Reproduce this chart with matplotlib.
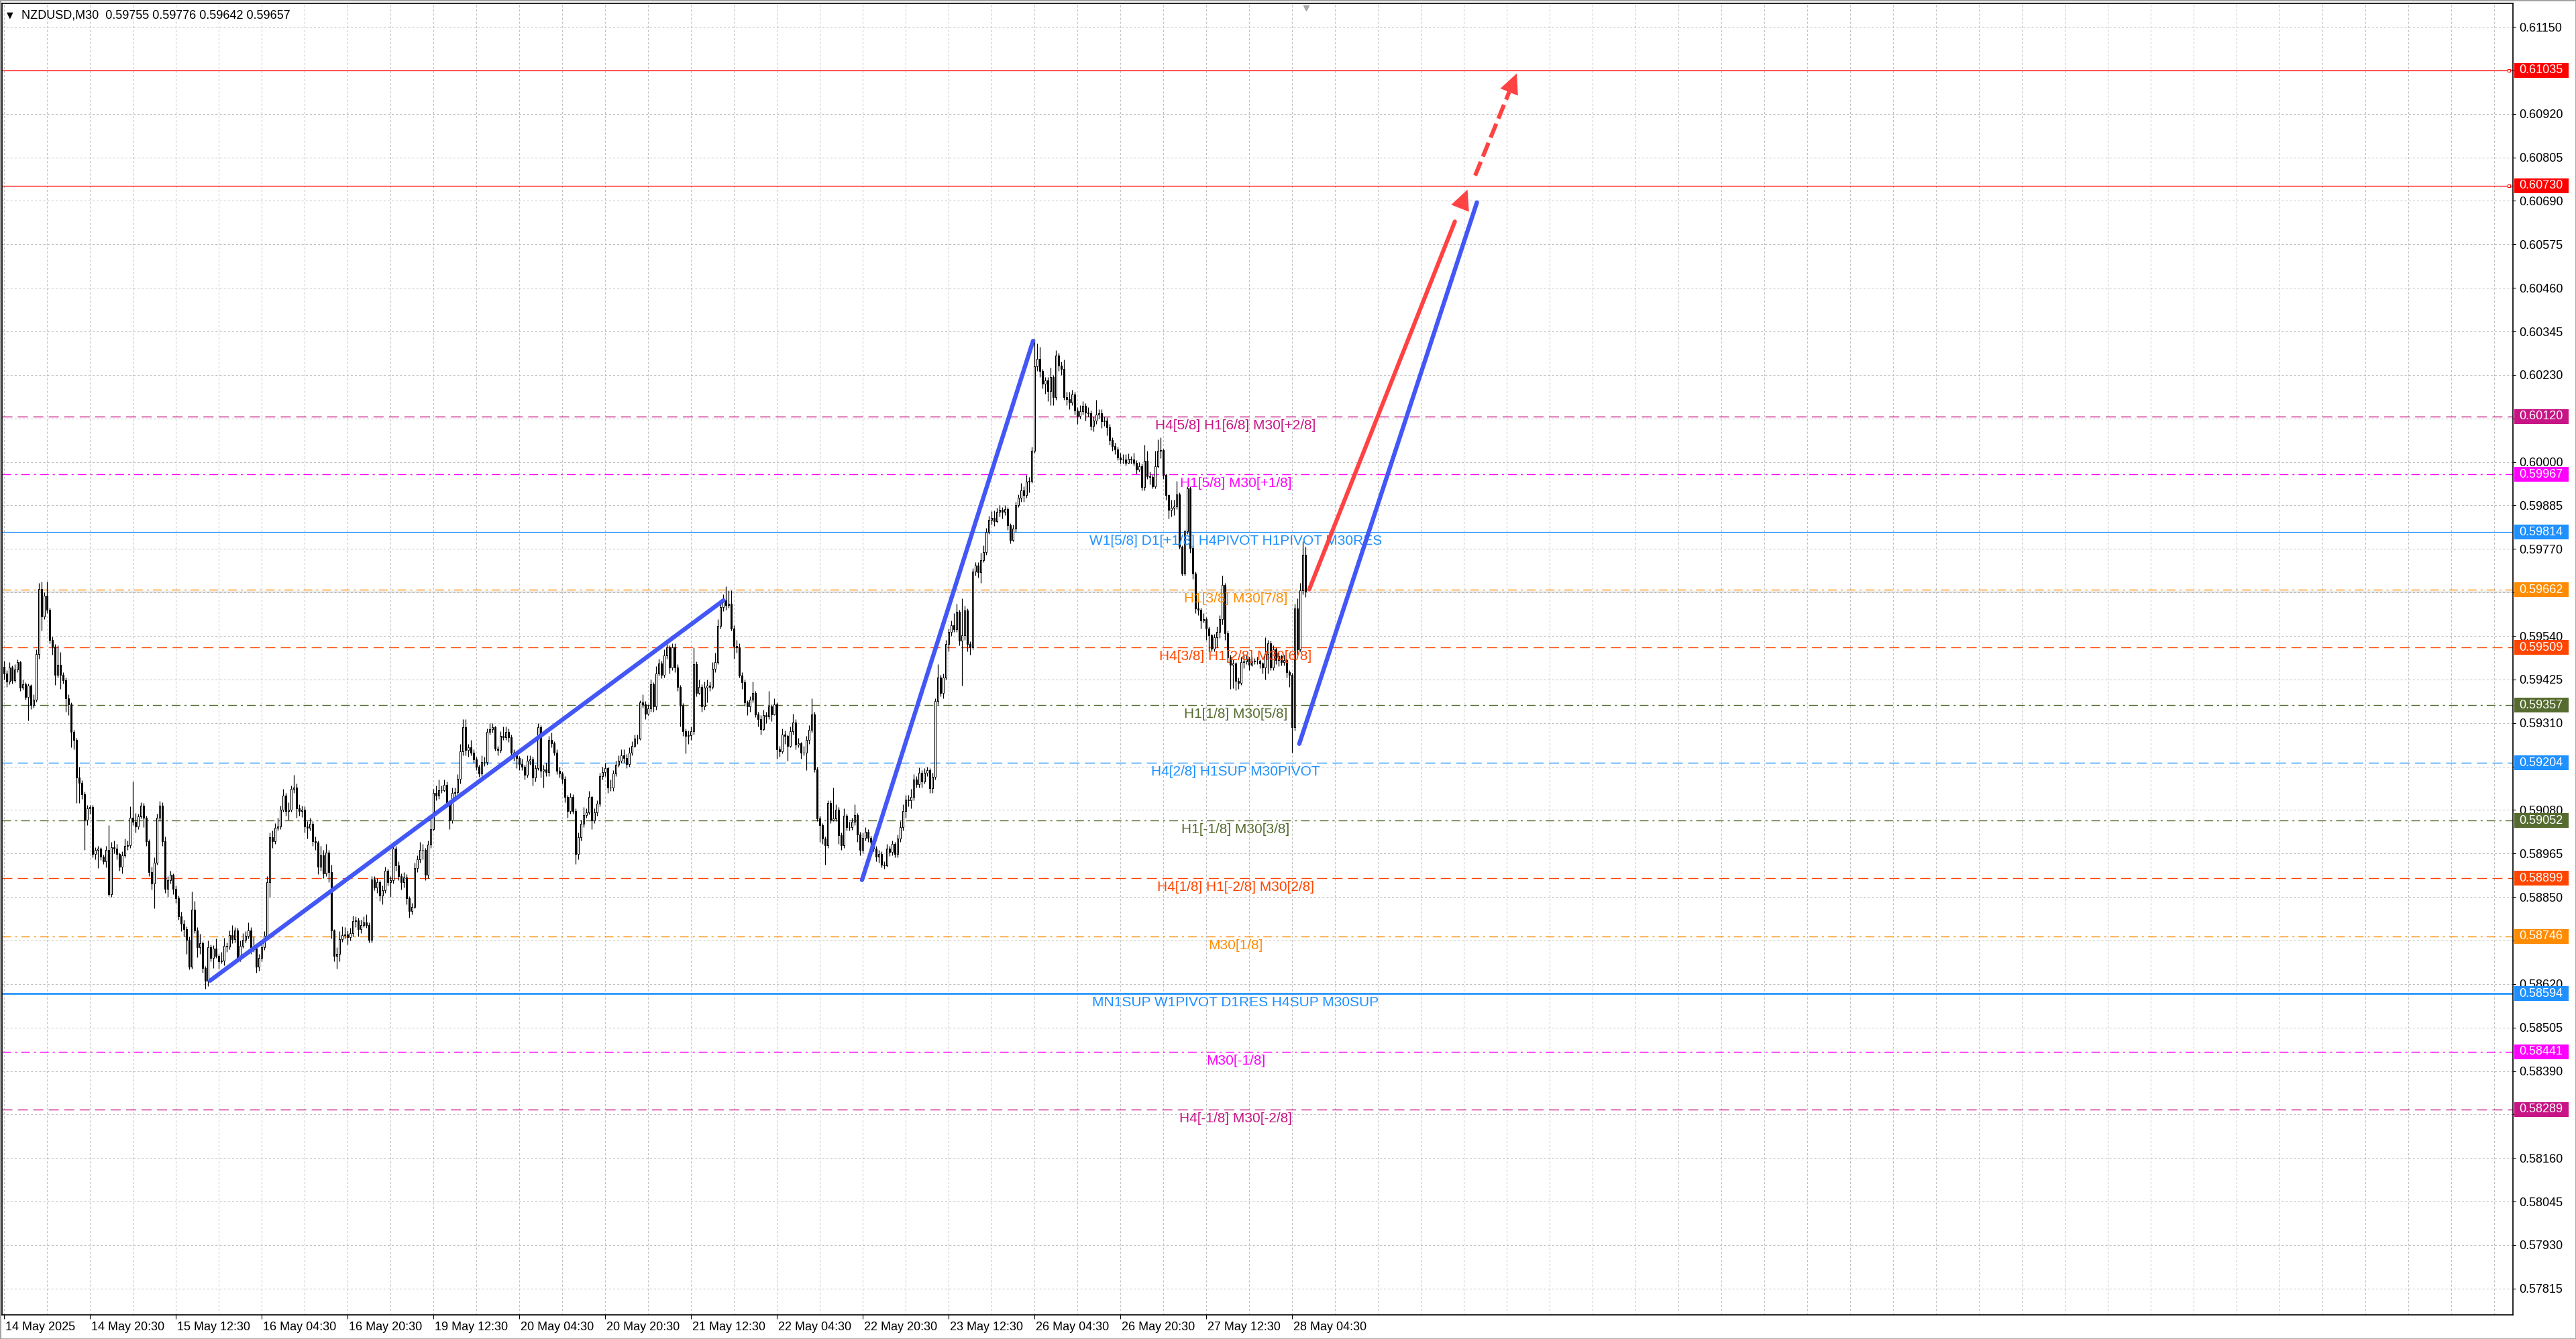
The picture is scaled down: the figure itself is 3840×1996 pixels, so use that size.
import numpy as np
import matplotlib
matplotlib.use("Agg")
import matplotlib.pyplot as plt
from matplotlib.transforms import blended_transform_factory, ScaledTranslation
from matplotlib.patches import Rectangle

plt.rcParams['font.family'] = ['Liberation Sans', 'DejaVu Sans']
plt.rcParams['lines.scale_dashes'] = False

# ---------------- data (prices in points, 1 point = 0.00001) ----------------
symbol = "NZDUSD,M30"
last_ohlc = ["0.59755", "0.59776", "0.59642", "0.59657"]

first_open = 59459   # later bars open at the previous close
closes = [
    59441, 59419, 59456, 59423, 59452, 59471, 59404, 59412, 59379, 59408,
    59357, 59371, 59493, 59665, 59592, 59647, 59610, 59529, 59511, 59437,
    59463, 59437, 59423, 59375, 59360, 59287, 59265, 59166, 59151, 59121,
    59055, 59085, 59088, 58963, 58974, 58978, 58956, 58945, 58974, 58857,
    58982, 58978, 58963, 58930, 58960, 58985, 58986, 59059, 59048, 59037,
    59063, 59092, 59059, 58997, 58916, 58886, 58941, 59059, 59092, 58997,
    58872, 58894, 58908, 58872, 58846, 58798, 58780, 58765, 58736, 58666,
    58816, 58761, 58717, 58728, 58662, 58629, 58717, 58688, 58714, 58695,
    58680, 58681, 58721, 58719, 58750, 58739, 58761, 58688, 58721, 58736,
    58747, 58761, 58717, 58714, 58666, 58688, 58717, 58747, 58890, 59008,
    58997, 59033, 59037, 59081, 59118, 59077, 59081, 59136, 59140, 59085,
    59077, 59081, 59037, 59033, 59044, 58997, 58993, 58930, 58960, 58912,
    58967, 58916, 58761, 58695, 58699, 58739, 58750, 58751, 58743, 58754,
    58787, 58788, 58765, 58776, 58783, 58776, 58736, 58897, 58875, 58890,
    58853, 58868, 58919, 58890, 58894, 58978, 58934, 58905, 58890, 58901,
    58846, 58813, 58824, 58927, 58949, 58974, 58975, 58908, 58989, 59030,
    59125, 59118, 59132, 59133, 59147, 59099, 59052, 59125, 59126, 59162,
    59235, 59298, 59239, 59246, 59232, 59213, 59195, 59177, 59206, 59207,
    59287, 59294, 59298, 59243, 59239, 59276, 59272, 59287, 59272, 59232,
    59224, 59217, 59202, 59195, 59173, 59210, 59213, 59166, 59191, 59298,
    59184, 59188, 59180, 59265, 59257, 59232, 59184, 59177, 59162, 59114,
    59077, 59114, 59077, 58963, 59008, 59044, 59066, 59074, 59114, 59052,
    59074, 59096, 59169, 59180, 59191, 59140, 59139, 59177, 59199, 59210,
    59224, 59217, 59202, 59232, 59250, 59268, 59269, 59364, 59360, 59335,
    59349, 59412, 59353, 59441, 59467, 59437, 59489, 59510, 59457, 59510,
    59457, 59406, 59356, 59288, 59276, 59277, 59288, 59466, 59389, 59406,
    59353, 59403, 59409, 59406, 59454, 59471, 59566, 59616, 59634, 59622,
    59625, 59560, 59513, 59510, 59436, 59418, 59365, 59354, 59371, 59389,
    59333, 59321, 59294, 59330, 59327, 59353, 59333, 59359, 59241, 59235,
    59279, 59276, 59250, 59288, 59312, 59253, 59256, 59232, 59232, 59265,
    59291, 59333, 59188, 59058, 59040, 59004, 58987, 59099, 59055, 59058,
    59081, 59013, 58987, 59064, 59034, 59035, 59049, 59067, 59016, 58975,
    59007, 59022, 59007, 58996, 58978, 58957, 58963, 58936, 58933, 58978,
    58969, 58990, 58963, 59004, 59034, 59078, 59108, 59105, 59114, 59161,
    59149, 59179, 59155, 59179, 59185, 59137, 59167, 59368, 59430, 59389,
    59430, 59519, 59551, 59569, 59557, 59604, 59528, 59542, 59607, 59519,
    59510, 59711, 59726, 59708, 59740, 59761, 59814, 59847, 59853, 59844,
    59868, 59873, 59868, 59876, 59832, 59794, 59823, 59885, 59906, 59924,
    59912, 59947, 59950, 60030, 60252, 60272, 60240, 60207, 60216, 60187,
    60225, 60172, 60281, 60255, 60246, 60172, 60166, 60157, 60178, 60136,
    60122, 60134, 60148, 60131, 60128, 60095, 60110, 60125, 60128, 60107,
    60110, 60092, 60057, 60042, 60033, 60012, 60006, 60007, 59998, 60009,
    60006, 59998, 59980, 59989, 59933, 60003, 59962, 59961, 59936, 59989,
    60030, 60031, 59965, 59912, 59873, 59879, 59882, 59915, 59776, 59705,
    59817, 59930, 59773, 59705, 59613, 59610, 59581, 59584, 59560, 59542,
    59507, 59537, 59551, 59584, 59675, 59548, 59483, 59464, 59467, 59422,
    59416, 59470, 59473, 59479, 59464, 59473, 59474, 59475, 59467, 59457,
    59492, 59521, 59457, 59505, 59476, 59486, 59470, 59476, 59445, 59438,
    59299, 59613, 59505, 59660, 59755, 59657,
]
highs = [
    59475, 59450, 59470, 59462, 59465, 59478, 59474, 59425, 59418, 59415,
    59412, 59385, 59505, 59680, 59684, 59655, 59684, 59615, 59538, 59518,
    59515, 59498, 59445, 59430, 59385, 59365, 59292, 59270, 59195, 59158,
    59128, 59094, 59093, 59094, 58981, 58985, 58982, 58962, 58985, 59040,
    58996, 59000, 58990, 58968, 58970, 59005, 59000, 59090, 59155, 59072,
    59071, 59101, 59098, 59065, 59002, 58930, 58955, 59070, 59103, 59100,
    59010, 58905, 58920, 58913, 58880, 58853, 58812, 58790, 58772, 58745,
    58864, 58840, 58770, 58752, 58733, 58668, 58735, 58725, 58722, 58740,
    58700, 58705, 58742, 58730, 58762, 58775, 58770, 58768, 58735, 58755,
    58760, 58782, 58770, 58745, 58720, 58700, 58730, 58760, 58905, 59020,
    59025, 59045, 59060, 59092, 59135, 59125, 59100, 59145, 59173, 59150,
    59095, 59092, 59090, 59050, 59060, 59050, 59010, 59000, 58985, 58975,
    58990, 58975, 58935, 58765, 58718, 58760, 58773, 58770, 58762, 58768,
    58800, 58798, 58795, 58790, 58798, 58805, 58783, 58905, 58905, 58900,
    58895, 58880, 58930, 58925, 58905, 58995, 58985, 58945, 58912, 58915,
    58910, 58852, 58835, 58940, 58960, 58995, 58990, 58980, 59000, 59060,
    59135, 59145, 59160, 59145, 59160, 59155, 59105, 59140, 59140, 59175,
    59255, 59320, 59320, 59255, 59265, 59240, 59220, 59200, 59225, 59220,
    59295, 59310, 59310, 59302, 59250, 59288, 59300, 59300, 59295, 59280,
    59240, 59235, 59222, 59215, 59200, 59225, 59225, 59220, 59200, 59310,
    59305, 59200, 59205, 59275, 59285, 59262, 59240, 59195, 59182, 59170,
    59120, 59125, 59122, 59085, 59020, 59055, 59088, 59085, 59130, 59118,
    59085, 59105, 59178, 59195, 59205, 59195, 59160, 59185, 59210, 59225,
    59240, 59240, 59228, 59245, 59262, 59280, 59280, 59370, 59385, 59368,
    59360, 59425, 59418, 59460, 59480, 59475, 59505, 59525, 59515, 59520,
    59520, 59465, 59410, 59362, 59295, 59290, 59300, 59510, 59472, 59425,
    59412, 59420, 59425, 59420, 59470, 59495, 59585, 59625, 59650, 59672,
    59660, 59660, 59568, 59530, 59520, 59445, 59425, 59370, 59380, 59420,
    59395, 59340, 59330, 59345, 59340, 59395, 59360, 59375, 59365, 59250,
    59295, 59290, 59280, 59300, 59335, 59320, 59270, 59260, 59250, 59275,
    59305, 59375, 59340, 59195, 59065, 59045, 59010, 59105, 59105, 59140,
    59095, 59088, 59020, 59085, 59070, 59048, 59060, 59095, 59072, 59022,
    59020, 59035, 59030, 59012, 59000, 58985, 58975, 58970, 58945, 58990,
    58985, 59000, 58995, 59015, 59050, 59095, 59120, 59120, 59135, 59175,
    59170, 59193, 59185, 59190, 59195, 59190, 59178, 59375, 59465, 59437,
    59440, 59530, 59560, 59580, 59600, 59625, 59610, 59640, 59620, 59612,
    59525, 59720, 59735, 59735, 59760, 59780, 59825, 59858, 59870, 59872,
    59878, 59885, 59880, 59885, 59880, 59838, 59835, 59895, 59915, 59945,
    59935, 59965, 59960, 60040, 60323, 60314, 60305, 60245, 60225, 60225,
    60250, 60230, 60295, 60288, 60265, 60270, 60185, 60185, 60190, 60185,
    60145, 60150, 60160, 60155, 60145, 60135, 60120, 60165, 60140, 60140,
    60120, 60118, 60100, 60065, 60050, 60040, 60025, 60020, 60020, 60022,
    60015, 60025, 60005, 60000, 59995, 60045, 60030, 59975, 59965, 60030,
    60060, 60065, 60035, 59970, 59915, 59900, 59900, 59950, 59920, 59780,
    59820, 59935, 59935, 59780, 59710, 59640, 59615, 59600, 59590, 59565,
    59545, 59545, 59565, 59595, 59700, 59680, 59555, 59490, 59478, 59470,
    59430, 59485, 59490, 59490, 59485, 59485, 59482, 59485, 59478, 59470,
    59537, 59530, 59528, 59515, 59510, 59495, 59490, 59490, 59480, 59450,
    59442, 59625, 59640, 59680, 59790, 59776,
]
lows = [
    59425, 59405, 59412, 59415, 59418, 59445, 59395, 59398, 59372, 59316,
    59346, 59350, 59366, 59480, 59555, 59585, 59600, 59520, 59490, 59410,
    59430, 59400, 59415, 59340, 59330, 59245, 59240, 59099, 59099, 59110,
    58974, 59040, 59070, 58955, 58950, 58926, 58948, 58938, 58928, 58852,
    58850, 58966, 58950, 58920, 58912, 58955, 58975, 58980, 59040, 59020,
    59030, 59058, 59035, 58985, 58905, 58870, 58820, 58935, 59050, 58985,
    58860, 58850, 58885, 58858, 58835, 58790, 58760, 58745, 58700, 58658,
    58660, 58755, 58690, 58700, 58650, 58607, 58615, 58680, 58662, 58688,
    58660, 58675, 58670, 58705, 58712, 58728, 58730, 58680, 58680, 58715,
    58730, 58740, 58700, 58705, 58650, 58655, 58680, 58710, 58740, 58850,
    58980, 58990, 59025, 59030, 59075, 59065, 59055, 59075, 59125, 59060,
    59065, 59062, 59020, 59005, 59025, 58985, 58975, 58910, 58920, 58900,
    58905, 58890, 58740, 58680, 58660, 58680, 58732, 58740, 58725, 58735,
    58745, 58770, 58745, 58755, 58770, 58768, 58730, 58730, 58868, 58860,
    58840, 58830, 58860, 58880, 58850, 58885, 58920, 58895, 58870, 58875,
    58830, 58795, 58805, 58820, 58915, 58940, 58950, 58895, 58900, 58980,
    59025, 59105, 59110, 59125, 59128, 59090, 59030, 59045, 59110, 59120,
    59150, 59225, 59225, 59220, 59225, 59205, 59185, 59168, 59170, 59196,
    59200, 59280, 59285, 59236, 59225, 59232, 59265, 59265, 59260, 59220,
    59210, 59190, 59185, 59185, 59160, 59165, 59200, 59145, 59155, 59185,
    59165, 59140, 59170, 59170, 59245, 59225, 59175, 59165, 59150, 59100,
    59060, 59070, 59070, 58938, 58950, 59000, 59035, 59060, 59068, 59030,
    59045, 59065, 59090, 59160, 59170, 59125, 59130, 59130, 59170, 59195,
    59205, 59205, 59190, 59195, 59225, 59245, 59255, 59265, 59350, 59320,
    59330, 59340, 59340, 59345, 59435, 59428, 59430, 59480, 59440, 59450,
    59445, 59395, 59300, 59275, 59230, 59255, 59265, 59280, 59380, 59385,
    59340, 59345, 59365, 59395, 59400, 59445, 59465, 59560, 59605, 59610,
    59615, 59555, 59480, 59495, 59430, 59400, 59355, 59330, 59340, 59365,
    59325, 59300, 59280, 59290, 59310, 59320, 59315, 59330, 59215, 59220,
    59230, 59255, 59210, 59245, 59280, 59240, 59245, 59215, 59225, 59185,
    59255, 59285, 59180, 59050, 58995, 58990, 58936, 58980, 59045, 59050,
    59050, 58990, 58975, 58980, 59025, 59025, 59028, 59040, 58995, 58960,
    58965, 59000, 58995, 58980, 58970, 58945, 58940, 58928, 58925, 58930,
    58958, 58960, 58955, 58955, 58995, 59025, 59060, 59090, 59085, 59105,
    59140, 59140, 59140, 59150, 59170, 59125, 59125, 59160, 59360, 59380,
    59375, 59425, 59500, 59540, 59550, 59550, 59515, 59409, 59530, 59500,
    59490, 59505, 59700, 59695, 59680, 59735, 59755, 59810, 59835, 59830,
    59840, 59855, 59850, 59860, 59820, 59785, 59790, 59815, 59880, 59895,
    59895, 59905, 59920, 59945, 60025, 60240, 60225, 60195, 60180, 60160,
    60150, 60150, 60165, 60240, 60230, 60165, 60150, 60140, 60150, 60125,
    60100, 60115, 60125, 60110, 60120, 60085, 60080, 60100, 60115, 60090,
    60095, 60070, 60045, 60030, 60020, 60005, 59995, 59995, 59990, 59995,
    59995, 59990, 59970, 59975, 59925, 59925, 59955, 59940, 59930, 59930,
    59985, 60010, 59955, 59900, 59850, 59855, 59860, 59875, 59770, 59700,
    59700, 59810, 59760, 59690, 59600, 59595, 59560, 59575, 59530, 59500,
    59500, 59500, 59510, 59535, 59570, 59530, 59470, 59400, 59402, 59397,
    59400, 59410, 59455, 59465, 59450, 59460, 59465, 59465, 59455, 59440,
    59425, 59440, 59450, 59450, 59465, 59460, 59462, 59462, 59430, 59405,
    59232, 59290, 59490, 59500, 59650, 59642,
]

time_labels = ["14 May 2025", "14 May 20:30", "15 May 12:30", "16 May 04:30",
               "16 May 20:30", "19 May 12:30", "20 May 04:30", "20 May 20:30",
               "21 May 12:30", "22 May 04:30", "22 May 20:30", "23 May 12:30",
               "26 May 04:30", "26 May 20:30", "27 May 12:30", "28 May 04:30"]
bars_between_time_labels = 32          # 16 hours of M30 bars

price_grid_low = 0.57815
price_grid_high = 0.61150
price_grid_step = 0.00115
price_ticks_shown = ["0.61150", "0.60920", "0.60805", "0.60690", "0.60575",
                     "0.60460", "0.60345", "0.60230", "0.60000", "0.59885",
                     "0.59770", "0.59540", "0.59425", "0.59310", "0.59080",
                     "0.58965", "0.58850", "0.58620", "0.58505", "0.58390",
                     "0.58160", "0.58045", "0.57930", "0.57815"]

levels = [0.61035, 0.60730, 0.60120, 0.59967, 0.59814, 0.59662, 0.59509,
          0.59357, 0.59204, 0.59052, 0.58899, 0.58746, 0.58594, 0.58441,
          0.58289]
level_texts = ["", "", "H4[5/8] H1[6/8] M30[+2/8]", "H1[5/8] M30[+1/8]",
               "W1[5/8] D1[+1/8] H4PIVOT H1PIVOT M30RES", "H1[3/8] M30[7/8]",
               "H4[3/8] H1[2/8] M30[6/8]", "H1[1/8] M30[5/8]",
               "H4[2/8] H1SUP M30PIVOT", "H1[-1/8] M30[3/8]",
               "H4[1/8] H1[-2/8] M30[2/8]", "M30[1/8]",
               "MN1SUP W1PIVOT D1RES H4SUP M30SUP", "M30[-1/8]",
               "H4[-1/8] M30[-2/8]"]
bid_price = 0.59657

# hand-drawn trend lines: (bar, price) endpoints
blue_lines = [((76.8, 0.58629), (268.1, 0.59634)),
              ((319.75, 0.58895), (383.5, 0.60320)),
              ((482.7, 0.59255), (548.9, 0.60686))]
red_arrow = ((486.4, 0.59663), (545.4, 0.60720))
red_dashed_arrow = ((548.25, 0.60757), (563.75, 0.61027))

# ---------------- styles ----------------
RED = '#FF0000'
VIOLET = '#C71585'
MAGENTA = '#FF00FF'
BLUE = '#1E90FF'
ORANGE = '#FF8C00'
ORANGERED = '#FF4500'
OLIVE = '#556B2F'
level_colors = [RED, RED, VIOLET, MAGENTA, BLUE, ORANGE, ORANGERED, OLIVE,
                BLUE, OLIVE, ORANGERED, ORANGE, BLUE, MAGENTA, VIOLET]
DASH = (0, (10.8, 5.8))
DASHDOT = (0, (9.4, 4.3, 2.2, 4.3))
level_styles = [('-', 0.9), ('-', 0.9), (DASH, 1.0), (DASHDOT, 1.0),
                ('-', 0.9), (DASHDOT, 1.0), (DASH, 1.0), (DASHDOT, 1.0),
                (DASH, 1.0), (DASHDOT, 1.0), (DASH, 1.0), (DASHDOT, 1.0),
                ('-', 1.9), (DASHDOT, 1.0), (DASH, 1.0)]
TREND_BLUE = '#4257F5'
TREND_RED = '#FF4242'
GRID = '#BEBEBE'

W, H = 3840, 1996
fig = plt.figure(figsize=(W / 100, H / 100), dpi=100)
fig.patch.set_facecolor('white')
ax_l, ax_r, ax_t, ax_b = 3, 3746, 5, 1960
ax = fig.add_axes([ax_l / W, (H - ax_b) / H, (ax_r - ax_l) / W, (ax_b - ax_t) / H])
ax.set_facecolor('white')

n = len(closes)
assert len(highs) == n and len(lows) == n
x = np.arange(n)
c = np.array(closes) / 1e5
o = np.concatenate([[first_open], closes[:-1]]) / 1e5
h = np.maximum(np.array(highs) / 1e5, np.maximum(o, c))
l = np.minimum(np.array(lows) / 1e5, np.minimum(o, c))

ymin, ymax = 0.577455, 0.612122
xmin, xmax = -0.75, 935.0
ax.set_xlim(xmin, xmax)
ax.set_ylim(ymin, ymax)

# grid
for v in range(0, int(xmax) + 1, 16):
    ax.axvline(v, color=GRID, lw=0.72, ls=(0, (2.2, 2.2)), zorder=0)
grid_vals = np.round(np.arange(price_grid_low, price_grid_high + 1e-9, price_grid_step), 5)
for v in grid_vals:
    ax.axhline(v, color=GRID, lw=0.72, ls=(0, (2.2, 2.2)), zorder=0)

# levels
for lv, col, (ls, lw) in zip(levels, level_colors, level_styles):
    ax.axhline(lv, color=col, ls=ls, lw=lw, zorder=1)
ax.axhline(bid_price, color='#C0C0C0', lw=0.9, zorder=1)

# level text labels (centred below line)
bt = blended_transform_factory(ax.transAxes, ax.transData)
label_center = (1842 - ax_l) / (ax_r - ax_l)
for lv, col, txt in zip(levels, level_colors, level_texts):
    if txt:
        ax.annotate(txt, xy=(label_center, lv), xycoords=bt, xytext=(0, -4),
                    textcoords='offset pixels', ha='center', va='top',
                    color=col, fontsize=15, zorder=6)

# red level end markers
for lv, col in zip(levels[:2], level_colors[:2]):
    ax.plot([0.9985], [lv], transform=bt, marker='s', ms=3.5, mfc='white',
            mec=col, mew=0.8, clip_on=False, zorder=7)

# candles
ax.vlines(x, l, h, color='black', lw=0.9, zorder=3)
up = c >= o
ax.bar(x[up], (c - o)[up], bottom=o[up], width=0.6, facecolor='white',
       edgecolor='black', linewidth=0.75, zorder=4)
ax.bar(x[~up], (o - c)[~up], bottom=c[~up], width=0.6, facecolor='black',
       edgecolor='black', linewidth=0.75, zorder=4)

# trend lines
for (p0, p1) in blue_lines:
    ax.plot([p0[0], p1[0]], [p0[1], p1[1]], color=TREND_BLUE, lw=4.6,
            solid_capstyle='round', zorder=8)

def arrow_head(p0, p1, color):
    frac = 0.03
    back = (p1[0] - (p1[0] - p0[0]) * frac, p1[1] - (p1[1] - p0[1]) * frac)
    ax.annotate('', xy=p1, xytext=back, xycoords='data',
                arrowprops=dict(arrowstyle='-|>,head_length=0.72,head_width=0.34',
                                mutation_scale=30, color=color, lw=0,
                                shrinkA=0, shrinkB=0), zorder=9)

p0, p1 = red_arrow
ax.plot([p0[0], p0[0] + (p1[0] - p0[0]) * 0.92], [p0[1], p0[1] + (p1[1] - p0[1]) * 0.92],
        color=TREND_RED, lw=4.4, solid_capstyle='round', zorder=9)
arrow_head(p0, p1, TREND_RED)
p0, p1 = red_dashed_arrow
ax.plot([p0[0], p0[0] + (p1[0] - p0[0]) * 0.82], [p0[1], p0[1] + (p1[1] - p0[1]) * 0.82],
        color=TREND_RED, lw=4.4, ls=(0, (16, 6)), dash_capstyle='butt', zorder=9)
arrow_head(p0, p1, TREND_RED)

# chart shift marker
ax.plot([(1947 - ax_l) / (ax_r - ax_l)], [0.9965], transform=ax.transAxes,
        marker='v', ms=6, color='#A8A8A8', clip_on=False, zorder=10)

# axes styling
for s in ax.spines.values():
    s.set_color('black')
    s.set_linewidth(1.2)
ax.yaxis.tick_right()
ax.set_yticks(grid_vals)
ax.set_yticklabels([f"{v:.5f}" if f"{v:.5f}" in price_ticks_shown else "" for v in grid_vals])
ax.tick_params(axis='y', length=3, width=0.8, pad=4, labelsize=13, colors='black')

tick_bars = [i * bars_between_time_labels for i in range(len(time_labels))]
ax.set_xticks(tick_bars)
ax.set_xticklabels(time_labels)
ax.tick_params(axis='x', length=4.5, width=0.8, pad=3, labelsize=13, colors='black')
for lbl in ax.get_xticklabels():
    lbl.set_ha('left')
    lbl.set_transform(lbl.get_transform() + ScaledTranslation(2 / 100, 0, fig.dpi_scale_trans))

# right-side price boxes
ppx = (ymax - ymin) / (ax_b - ax_t)
axw = ax_r - ax_l
for lv, col in zip(levels, level_colors):
    ax.add_patch(Rectangle((1 + 2 / axw, lv - 11 * ppx), 81 / axw, 22 * ppx,
                           transform=bt, facecolor=col, edgecolor='none',
                           clip_on=False, zorder=10))
    ax.text(1 + 9 / axw, lv, f"{lv:.5f}", transform=bt, color='white',
            fontsize=13, va='center', ha='left', clip_on=False, zorder=11)

# header
fig.text(10 / W, 1 - 23 / H, "\u25BC", fontsize=9, va='center', ha='left',
         family=['DejaVu Sans'], color='black')
fig.text(32 / W, 1 - 23 / H, symbol + "  " + " ".join(last_ohlc), fontsize=13,
         va='center', ha='left', color='black')

# window frame
fig.add_artist(Rectangle((0, 0), 1, 1, transform=fig.transFigure, fill=False,
                         edgecolor='#A0A0A0', lw=2))

fig.savefig("out.png", dpi=100)
